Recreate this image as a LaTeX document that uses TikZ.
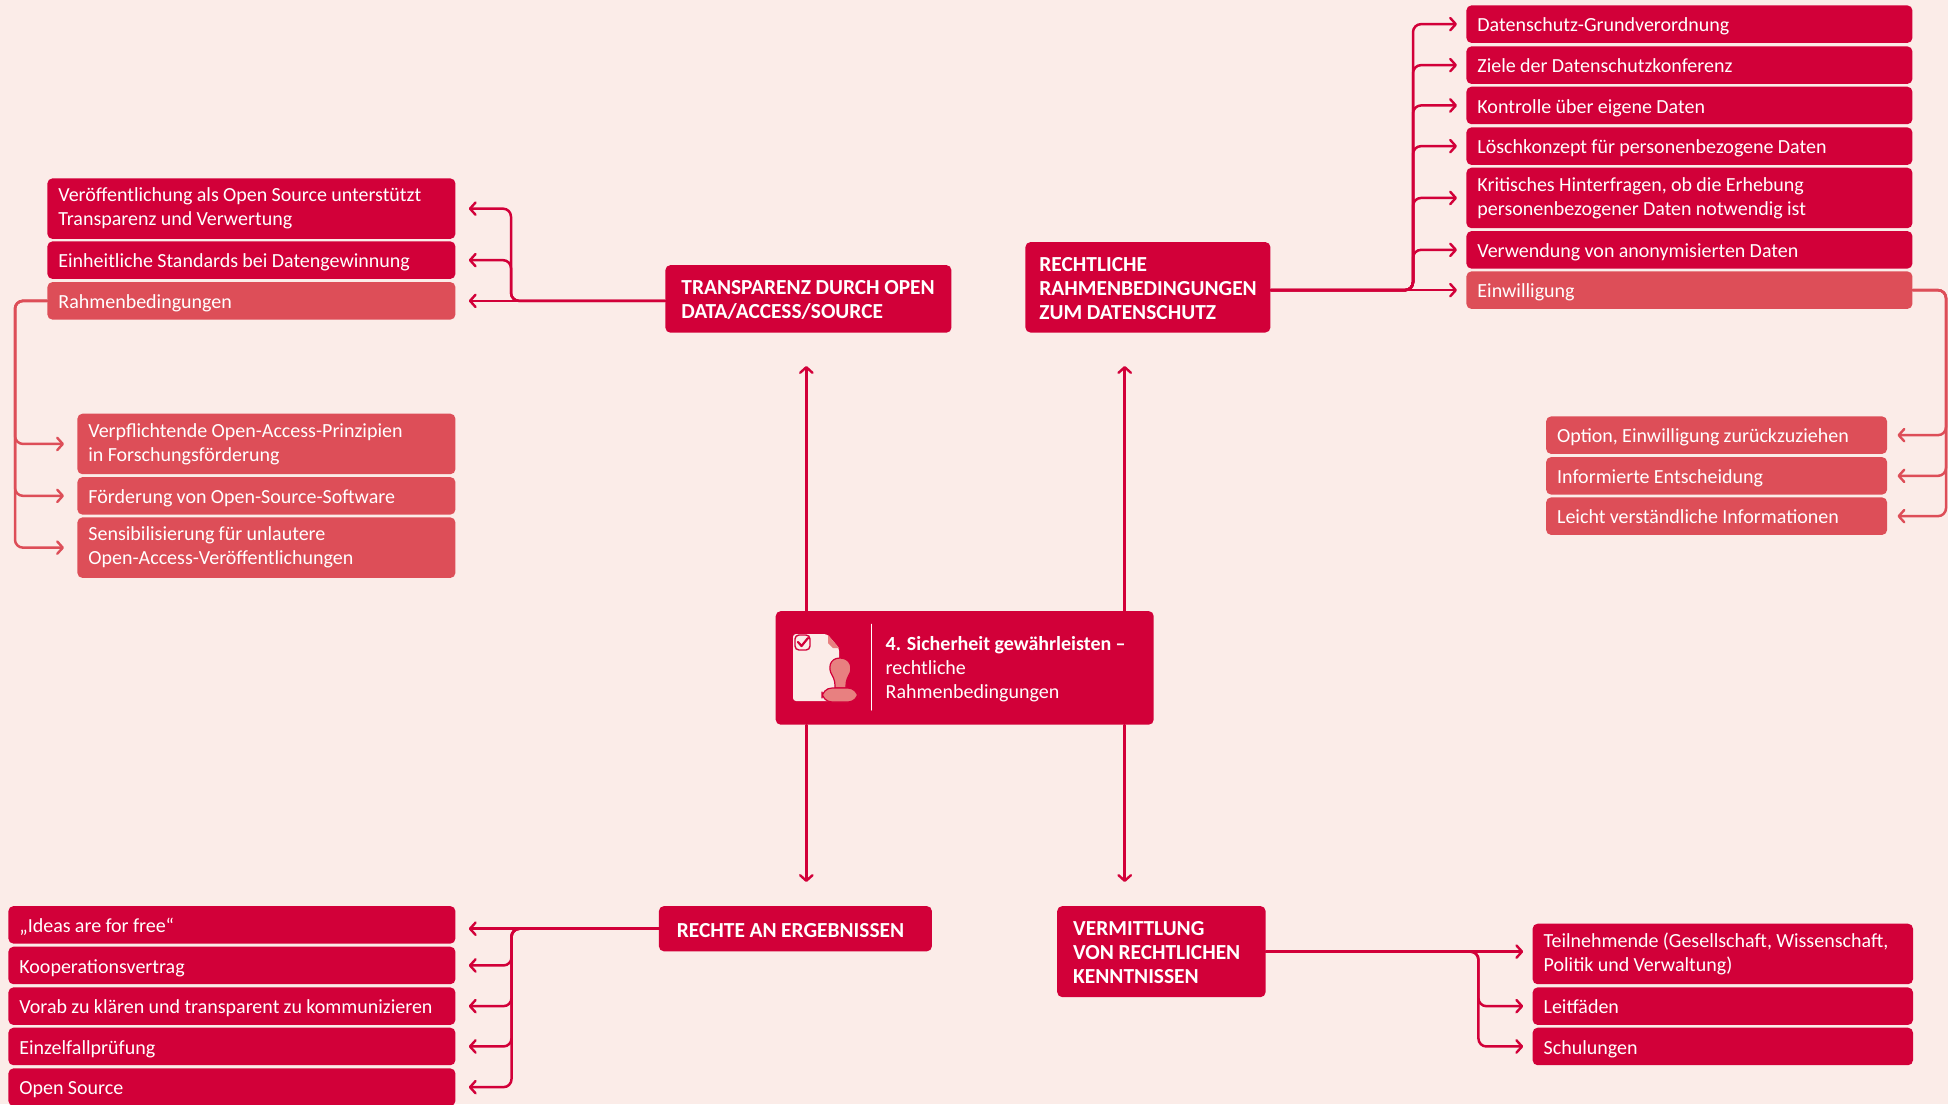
\documentclass[tikz,border=0pt]{standalone}
\usepackage{fontspec}
\usepackage{tikz}
\usetikzlibrary{arrows.meta}
\setmainfont[WordSpace=0.95]{Carlito}
\definecolor{bgrose}{rgb}{0.984,0.925,0.91}
\definecolor{darkred}{rgb}{0.824,0.,0.224}
\definecolor{lightred}{rgb}{0.867,0.306,0.345}
\definecolor{stampred}{rgb}{0.91,0.502,0.502}
\newcommand{\boxstrut}{\rule[-2.3pt]{0pt}{9.7pt}}
\tikzset{
  box/.style={anchor=north west,rounded corners=2.5pt,inner xsep=5.5pt,inner ysep=0pt,text=white,align=flush left,
    font=\fontsize{10pt}{12pt}\selectfont,execute at begin node=\boxstrut,execute at end node=\boxstrut},
  darkbox/.style={box,fill=darkred},
  lightbox/.style={box,fill=lightred},
  oneline/.style={minimum height=18.75pt,execute at begin node=\rule{0pt}{10pt}},
  twoline/.style={minimum height=30.25pt},
  titlebox/.style={darkbox,inner xsep=7.5pt,font=\fontsize{10.7pt}{12pt}\selectfont\bfseries,execute at begin node=\rule{0pt}{10pt}},
  darkline/.style={draw=darkred,line width=1.25pt,-{Straight Barb[length=2.8pt,width=6.2pt,line width=1.2pt,round]}},
  lightline/.style={draw=lightred,line width=1.25pt,-{Straight Barb[length=2.8pt,width=6.2pt,line width=1.2pt,round]}}
}
\begin{document}
\begin{tikzpicture}[line cap=round,line join=round,x=0.5pt,y=-0.5pt]
\useasboundingbox (0,0) rectangle (1948,1104);
\clip (0,0) rectangle (1948,1104);
\fill [bgrose] (0,0) rectangle (1948,1104);
% center
\node [darkbox,minimum width=189pt,minimum height=56.8pt] (ctr) at (775.3,610.7) {};
\node [anchor=west,inner sep=0pt,text=white,align=left,font=\fontsize{10pt}{12pt}\selectfont] (ctrtext) at (885.3,669.5)
  {\textbf{4. Sicherheit gewährleisten –}\\rechtliche\\Rahmenbedingungen};
\draw [white,line width=0.6pt] (871.3,624.3) -- (871.3,710);
% icon
\fill [bgrose,rounded corners=1.5pt] (793,634) -- (827,634) -- (839,648) -- (839,701) -- (793,701) -- cycle;
\fill [stampred] (828,635) -- (839,648) -- (833,648) -- (828,643) -- cycle;
\draw [darkred,line width=0.6pt,fill=stampred] (840,658) .. controls (829,658) and (828,669) .. (832,675) .. controls (835,680) and (835,684) .. (835,688) -- (846,688) .. controls (846,684) and (846,680) .. (849,675) .. controls (853,669) and (851,658) .. (840,658) -- cycle;
\draw [darkred,line width=0.6pt,fill=stampred,rounded corners=5pt] (822,688) rectangle (858,702);
\draw [darkred,line width=0.7pt,rounded corners=2pt] (795,635) rectangle (810,650);
\draw [darkred,line width=1.1pt] (798,642) -- (801.5,646) -- (808,638);
% transparency
\node [titlebox,inner xsep=8pt,text width=127pt,minimum height=33.8pt] (tr) at (665,264.7) {TRANSPARENZ DURCH OPEN\\DATA/ACCESS/SOURCE};
\node [darkbox,twoline,text width=193pt] (ta) at (47,178) {Veröffentlichung als Open Source unterstützt\\Transparenz und Verwertung};
\node [darkbox,oneline,text width=193pt] (tb) at (47,241) {Einheitliche Standards bei Datengewinnung};
\node [lightbox,oneline,text width=193pt] (tc) at (47,281.7) {Rahmenbedingungen};
\node [lightbox,twoline,text width=178pt] (sa) at (77,413.3) {Verpflichtende Open-Access-Prinzipien\\in Forschungsförderung};
\node [lightbox,oneline,text width=178pt] (sb) at (77,476.7) {Förderung von Open-Source-Software};
\node [lightbox,twoline,text width=178pt] (sc) at (77,517) {Sensibilisierung für unlautere\\Open-Access-Veröffentlichungen};
\coordinate (busa) at (511,300);
\coordinate (busb) at (15,300);
\draw [darkline] (tr.west |- tc.east) -- ([xshift=6.5pt]tc.east);
\draw [darkline,rounded corners=4pt] (tr.west |- tc.east) -| (busa |- ta.east) -- ([xshift=6.5pt]ta.east);
\draw [darkline,rounded corners=4pt] (tr.west |- tc.east) -| (busa |- tb.east) -- ([xshift=6.5pt]tb.east);
\draw [lightline,rounded corners=4pt] (tc.west) -| (busb |- sa.west) -- ([xshift=-6.5pt]sa.west);
\draw [lightline,rounded corners=4pt] (tc.west) -| (busb |- sb.west) -- ([xshift=-6.5pt]sb.west);
\draw [lightline,rounded corners=4pt] (tc.west) -| (busb |- sc.west) -- ([xshift=-6.5pt]sc.west);
% data protection
\node [titlebox,inner xsep=7pt,text width=108.5pt,minimum height=45.2pt] (rd) at (1025,241.7) {RECHTLICHE\\RAHMENBEDINGUNGEN\\ZUM DATENSCHUTZ};
\node [darkbox,oneline,text width=212pt] (ra) at (1466,5) {Datenschutz-Grundverordnung};
\node [darkbox,oneline,text width=212pt] (rb) at (1466,46) {Ziele der Datenschutzkonferenz};
\node [darkbox,oneline,text width=212pt] (rc) at (1466,86.3) {Kontrolle über eigene Daten};
\node [darkbox,oneline,text width=212pt] (re) at (1466,127) {Löschkonzept für personenbezogene Daten};
\node [darkbox,twoline,text width=212pt] (rf) at (1466,167.3) {Kritisches Hinterfragen, ob die Erhebung\\personenbezogener Daten notwendig ist};
\node [darkbox,oneline,text width=212pt] (rg) at (1466,230.7) {Verwendung von anonymisierten Daten};
\node [lightbox,oneline,text width=212pt] (rh) at (1466,271) {Einwilligung};
\node [lightbox,oneline,text width=159.5pt] (oa) at (1545.7,416) {Option, Einwilligung zurückzuziehen};
\node [lightbox,oneline,text width=159.5pt] (ob) at (1545.7,456.7) {Informierte Entscheidung};
\node [lightbox,oneline,text width=159.5pt] (oc) at (1545.7,497) {Leicht verständliche Informationen};
\coordinate (busc) at (1413,290);
\coordinate (busd) at (1946,290);
\draw [darkline] (rd.east |- rh.west) -- ([xshift=-4.5pt]rh.west);
\draw [darkline,rounded corners=4pt] (rd.east |- rh.west) -| (busc |- ra.west) -- ([xshift=-4.5pt]ra.west);
\draw [darkline,rounded corners=4pt] (rd.east |- rh.west) -| (busc |- rb.west) -- ([xshift=-4.5pt]rb.west);
\draw [darkline,rounded corners=4pt] (rd.east |- rh.west) -| (busc |- rc.west) -- ([xshift=-4.5pt]rc.west);
\draw [darkline,rounded corners=4pt] (rd.east |- rh.west) -| (busc |- re.west) -- ([xshift=-4.5pt]re.west);
\draw [darkline,rounded corners=4pt] (rd.east |- rh.west) -| (busc |- rf.west) -- ([xshift=-4.5pt]rf.west);
\draw [darkline,rounded corners=4pt] (rd.east |- rh.west) -| (busc |- rg.west) -- ([xshift=-4.5pt]rg.west);
\draw [lightline,rounded corners=4pt] (rh.east) -| (busd |- oa.east) -- ([xshift=5pt]oa.east);
\draw [lightline,rounded corners=4pt] (rh.east) -| (busd |- ob.east) -- ([xshift=5pt]ob.east);
\draw [lightline,rounded corners=4pt] (rh.east) -| (busd |- oc.east) -- ([xshift=5pt]oc.east);
% rights
\node [titlebox,inner xsep=9pt,text width=118.5pt,minimum height=22.6pt,execute at begin node=\rule{0pt}{11pt}] (re1) at (658.5,905.7) {RECHTE AN ERGEBNISSEN};
\node [darkbox,oneline,text width=212.5pt] (la) at (8,905.7) {„Ideas are for free“};
\node [darkbox,oneline,text width=212.5pt] (lb) at (8,946.3) {Kooperationsvertrag};
\node [darkbox,oneline,text width=212.5pt] (lc) at (8,987) {Vorab zu klären und transparent zu kommunizieren};
\node [darkbox,oneline,text width=212.5pt] (ld) at (8,1027.3) {Einzelfallprüfung};
\node [darkbox,oneline,text width=212.5pt] (le) at (8,1068) {Open Source};
\coordinate (buse) at (511.5,928);
\draw [darkline] (re1.west) -- ([xshift=6.5pt]re1.west -| la.east);
\draw [darkline,rounded corners=4pt] (re1.west) -| (buse |- lb.east) -- ([xshift=6.5pt]lb.east);
\draw [darkline,rounded corners=4pt] (re1.west) -| (buse |- lc.east) -- ([xshift=6.5pt]lc.east);
\draw [darkline,rounded corners=4pt] (re1.west) -| (buse |- ld.east) -- ([xshift=6.5pt]ld.east);
\draw [darkline,rounded corners=4pt] (re1.west) -| (buse |- le.east) -- ([xshift=6.5pt]le.east);
% teaching
\node [titlebox,inner xsep=8pt,text width=88.2pt,minimum height=45.5pt] (ve) at (1056.8,905.7) {VERMITTLUNG\\VON RECHTLICHEN\\KENNTNISSEN};
\node [darkbox,twoline,text width=179.2pt] (va) at (1532.2,923.3) {Teilnehmende (Gesellschaft, Wissenschaft,\\Politik und Verwaltung)};
\node [darkbox,oneline,text width=179.2pt] (vb) at (1532.2,987) {Leitfäden};
\node [darkbox,oneline,text width=179.2pt] (vc) at (1532.2,1027.3) {Schulungen};
\coordinate (busf) at (1478.4,951);
\draw [darkline] (ve.east) -- ([xshift=-4.5pt]va.west |- ve.east);
\draw [darkline,rounded corners=4pt] (ve.east) -| (busf |- vb.west) -- ([xshift=-4.5pt]vb.west);
\draw [darkline,rounded corners=4pt] (ve.east) -| (busf |- vc.west) -- ([xshift=-4.5pt]vc.west);
% center connectors
\coordinate (tipa) at (806.3,366);
\coordinate (tipb) at (1124.7,366);
\coordinate (tipc) at (806.3,882);
\coordinate (tipd) at (1124.7,882);
\draw [darkline] (ctr.north -| tipa) -- (tipa);
\draw [darkline] (ctr.north -| tipb) -- (tipb);
\draw [darkline] (ctr.south -| tipc) -- (tipc);
\draw [darkline] (ctr.south -| tipd) -- (tipd);
\end{tikzpicture}
\end{document}
